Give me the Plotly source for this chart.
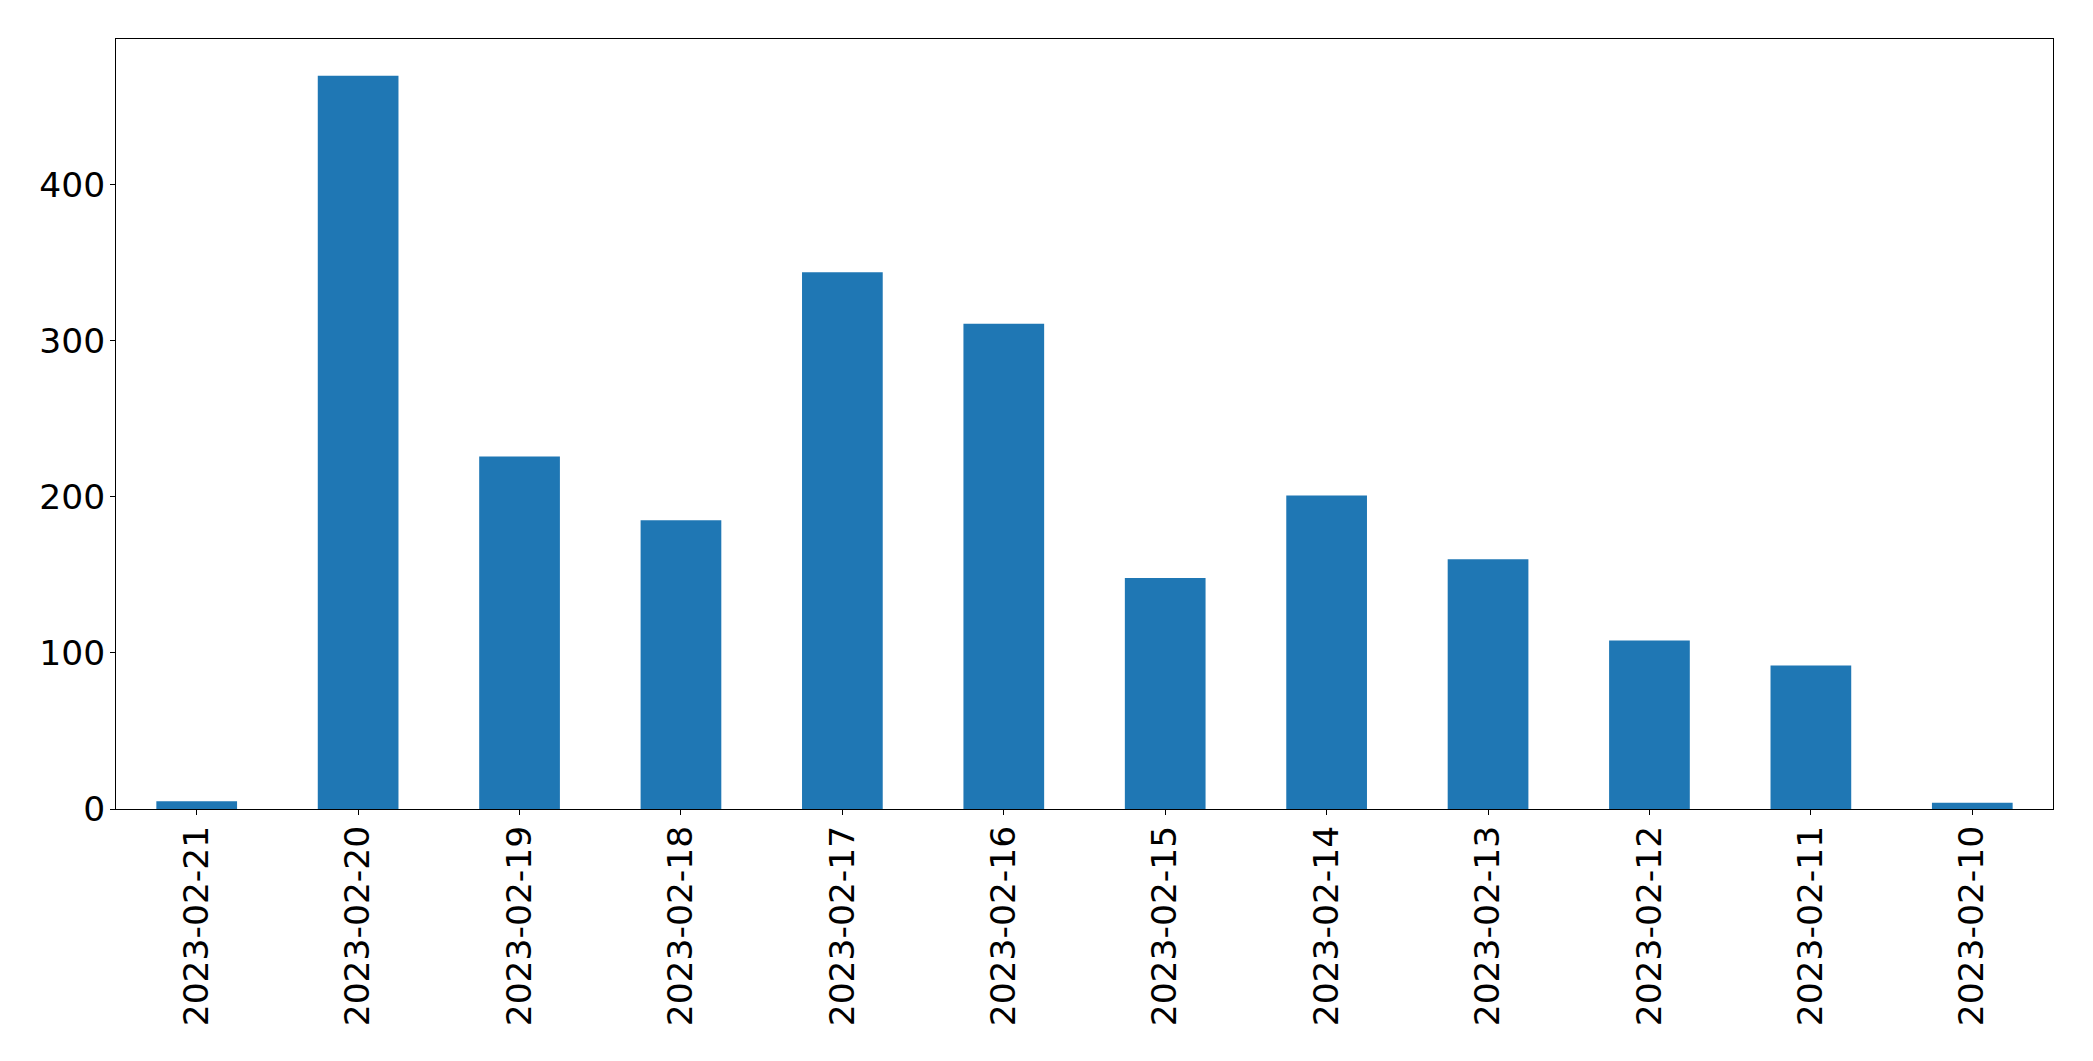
import plotly.graph_objects as go

dates = ["2023-02-21", "2023-02-20", "2023-02-19", "2023-02-18", "2023-02-17", "2023-02-16",
         "2023-02-15", "2023-02-14", "2023-02-13", "2023-02-12", "2023-02-11", "2023-02-10"]
counts = [5, 470, 226, 185, 344, 311, 148, 201, 160, 108, 92, 4]
y_ticks = [0, 100, 200, 300, 400]

fig = go.Figure(go.Bar(x=dates, y=counts, marker=dict(color="#1f77b4", line=dict(width=0)), width=0.5))

font = dict(family="DejaVu Sans", size=34.5, color="black")
fig.update_layout(
    width=2085, height=1053,
    margin=dict(l=108, r=40, t=31, b=252),
    paper_bgcolor="white", plot_bgcolor="white",
    showlegend=False,
    font=font,
)
fig.update_xaxes(
    type="category", range=[-0.5, len(dates) - 0.5],
    tickangle=-90, tickfont=font, ticklabelstandoff=-3,
    showline=True, linecolor="black", linewidth=1, mirror=True,
    ticks="outside", ticklen=5, tickwidth=1, tickcolor="black",
    showgrid=False, zeroline=False,
)
fig.update_yaxes(
    range=[0, max(counts) * 1.05],
    tickvals=y_ticks, tickfont=font, ticklabelstandoff=-2,
    showline=True, linecolor="black", linewidth=1, mirror=True,
    ticks="outside", ticklen=5, tickwidth=1, tickcolor="black",
    showgrid=False, zeroline=False,
)
fig.write_html("out.html")
